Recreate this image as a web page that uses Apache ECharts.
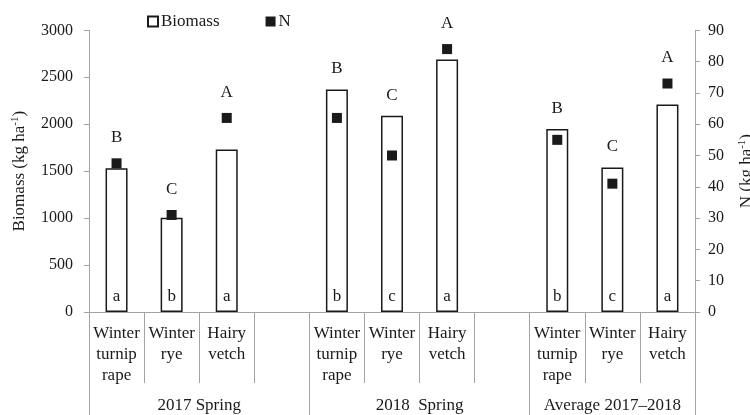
<!DOCTYPE html>
<html>
<head>
<meta charset="utf-8">
<script src="https://cdn.jsdelivr.net/npm/echarts@6/dist/echarts.min.js"></script>
<style>
  html, body { margin: 0; padding: 0; background: #fff; }
  #chart { width: 750px; height: 415px; }
</style>
</head>
<body>
<div id="chart"></div>
<script>
// Crop categories (empty slots separate the seasons)
const categories = [
  'Winter\nturnip\nrape', 'Winter\nrye', 'Hairy\nvetch', '',
  'Winter\nturnip\nrape', 'Winter\nrye', 'Hairy\nvetch', '',
  'Winter\nturnip\nrape', 'Winter\nrye', 'Hairy\nvetch'
];
// Biomass, kg ha-1
const biomass = [1530, 1005, 1730, null, 2370, 2090, 2690, null, 1950, 1540, 2210];
// N uptake, kg ha-1
const nitrogen = [47.5, 31, 62, null, 62, 50, 84, null, 55, 41, 73];
// Significance letters: between crops (upper) and between seasons (lower)
const cropLetters = ['B', 'C', 'A', '', 'B', 'C', 'A', '', 'B', 'C', 'A'];
const seasonLetters = ['a', 'b', 'a', '', 'b', 'c', 'a', '', 'b', 'c', 'a'];
// Season groups and their category boundaries
const groups = ['2017 Spring', '2018  Spring', 'Average 2017\u20132018'];
const groupBounds = [0, 4, 8, 11];
// Axis tick settings
const biomassTicks = { min: 0, max: 3000, interval: 500 };
const nTicks = { min: 0, max: 90, interval: 10 };

const FONT = 'Liberation Serif';
const TEXT = '#1a1a1a';
const AXIS = '#a3a3a3';

const groupCenters = groups.map((g, i) => (groupBounds[i] + groupBounds[i + 1]) / 2);

// Upper-case letter goes above whichever mark stands higher
const markerHigher = biomass.map((b, i) =>
  b != null && nitrogen[i] / nTicks.max > b / biomassTicks.max);

const upperLabel = { show: true, position: 'top', distance: 12,
  fontFamily: FONT, fontSize: 17, color: TEXT };

const chart = echarts.init(document.getElementById('chart'), null, { renderer: 'canvas' });

chart.setOption({
  animation: false,
  backgroundColor: '#fff',
  textStyle: { fontFamily: FONT, color: TEXT },
  grid: { left: 89, right: 55, top: 30.3, bottom: 103, outerBoundsMode: 'none' },
  legend: {
    left: 142, top: 8,
    itemWidth: 10, itemHeight: 10, itemGap: 46,
    icon: 'rect',
    textStyle: { fontFamily: FONT, fontSize: 17, color: TEXT, padding: [0, 0, 0, -2] },
    data: ['Biomass', 'N']
  },
  xAxis: [
    {
      type: 'category',
      data: categories,
      axisLine: { lineStyle: { color: AXIS, width: 1 } },
      axisTick: { show: true, interval: 0, length: 71, lineStyle: { color: AXIS } },
      axisLabel: { interval: 0, margin: 11, fontFamily: FONT, fontSize: 17,
        lineHeight: 21, color: TEXT },
      splitLine: { show: false }
    },
    {
      // season group separators and names
      type: 'value',
      position: 'bottom',
      min: groupBounds[0], max: groupBounds[groupBounds.length - 1],
      axisLine: { show: false },
      splitLine: { show: false },
      axisTick: { show: true, length: 110, customValues: groupBounds,
        lineStyle: { color: AXIS } },
      axisLabel: {
        show: true, margin: 85, customValues: groupCenters,
        fontFamily: FONT, fontSize: 17, color: TEXT,
        formatter: v => groups[groupCenters.indexOf(v)] || ''
      }
    }
  ],
  yAxis: [
    {
      type: 'value',
      min: biomassTicks.min, max: biomassTicks.max, interval: biomassTicks.interval,
      position: 'left',
      name: '{t|Biomass (kg ha}{s|-1}{t|)}',
      nameLocation: 'middle', nameRotate: 90, nameGap: 60,
      nameTextStyle: {
        rich: {
          t: { fontFamily: FONT, fontSize: 17, color: TEXT, lineHeight: 19 },
          s: { fontFamily: FONT, fontSize: 11, color: TEXT, verticalAlign: 'top', lineHeight: 19 }
        }
      },
      axisLine: { show: true, lineStyle: { color: AXIS } },
      axisTick: { show: true, length: 5, lineStyle: { color: AXIS } },
      axisLabel: { margin: 16, fontFamily: FONT, fontSize: 16, color: TEXT,
        formatter: v => String(v) },
      splitLine: { show: false }
    },
    {
      type: 'value',
      min: nTicks.min, max: nTicks.max, interval: nTicks.interval,
      position: 'right',
      name: '{t|N (kg ha}{s|-1}{t|)}',
      nameLocation: 'middle', nameRotate: 90, nameGap: 42,
      nameTextStyle: {
        rich: {
          t: { fontFamily: FONT, fontSize: 17, color: TEXT, lineHeight: 19 },
          s: { fontFamily: FONT, fontSize: 11, color: TEXT, verticalAlign: 'top', lineHeight: 19 }
        }
      },
      axisLine: { show: true, lineStyle: { color: AXIS } },
      axisTick: { show: true, length: 5, lineStyle: { color: AXIS } },
      axisLabel: { margin: 13, fontFamily: FONT, fontSize: 16, color: TEXT,
        formatter: v => String(v) },
      splitLine: { show: false }
    }
  ],
  series: [
    {
      name: 'Biomass',
      type: 'bar',
      xAxisIndex: 0, yAxisIndex: 0,
      barWidth: 22,
      itemStyle: { color: '#fff', borderColor: '#1a1a1a', borderWidth: 1.5 },
      label: {
        show: true, position: 'insideBottom', distance: 7,
        fontFamily: FONT, fontSize: 17, color: TEXT,
        formatter: p => seasonLetters[p.dataIndex]
      },
      data: biomass
    },
    {
      // transparent twin of the bars, carrying the crop letters
      name: 'BiomassLetters',
      type: 'bar',
      xAxisIndex: 0, yAxisIndex: 0,
      barWidth: 22, barGap: '-100%',
      silent: true,
      itemStyle: { color: 'rgba(0,0,0,0)' },
      data: biomass.map((b, i) => ({
        value: b,
        label: Object.assign({}, upperLabel, {
          show: b != null && !markerHigher[i],
          formatter: () => cropLetters[i]
        })
      }))
    },
    {
      name: 'N',
      type: 'scatter',
      xAxisIndex: 0, yAxisIndex: 1,
      symbol: 'rect', symbolSize: 10,
      itemStyle: { color: '#1a1a1a', opacity: 1 },
      data: nitrogen.map((n, i) => ({
        value: n,
        label: Object.assign({}, upperLabel, {
          show: n != null && markerHigher[i],
          formatter: () => cropLetters[i]
        })
      }))
    }
  ]
});
</script>
</body>
</html>
